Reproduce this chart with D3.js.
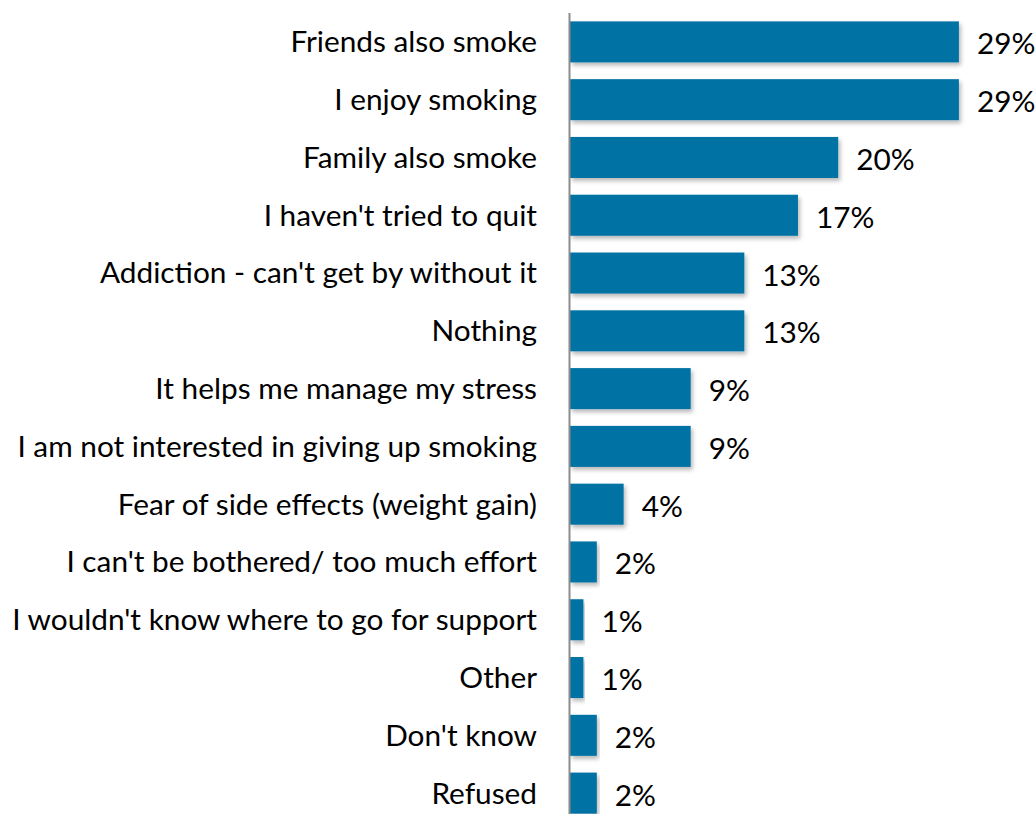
<!DOCTYPE html>
<html>
<head>
<meta charset="utf-8">
<script src="https://cdn.jsdelivr.net/npm/d3@7"></script>
<style>
  html, body { margin: 0; padding: 0; background: #fff; }
  svg { display: block; }
</style>
</head>
<body>
<svg id="chart" width="1035" height="814"></svg>
<script>
// Reasons given for not quitting smoking (share of respondents)
const categories = [
  "Friends also smoke",
  "I enjoy smoking",
  "Family also smoke",
  "I haven't tried to quit",
  "Addiction - can't get by without it",
  "Nothing",
  "It helps me manage my stress",
  "I am not interested in giving up smoking",
  "Fear of side effects (weight gain)",
  "I can't be bothered/ too much effort",
  "I wouldn't know where to go for support",
  "Other",
  "Don't know",
  "Refused"
];
const values = [29, 29, 20, 17, 13, 13, 9, 9, 4, 2, 1, 1, 2, 2];
const valueLabels = values.map(v => v + "%");

const W = 1035, H = 814;
const axisX = 569.5;
const svg = d3.select("#chart");

const defs = svg.append("defs");
const shadow = defs.append("filter").attr("id", "barShadow")
  .attr("x", "-5%").attr("y", "-20%").attr("width", "115%").attr("height", "160%");
shadow.append("feDropShadow")
  .attr("dx", 2).attr("dy", 3).attr("stdDeviation", 2)
  .attr("flood-color", "#000").attr("flood-opacity", 0.28);

const y = d3.scaleBand()
  .domain(categories)
  .range([13, 822])
  .paddingInner(0.29)
  .paddingOuter(0.145);

const x = d3.scaleLinear()
  .domain([0, 30])
  .range([570, 570 + 30 * 13.41]);

const font = "Lato, 'Open Sans', sans-serif";

// bars
svg.append("g").selectAll("rect")
  .data(categories)
  .join("rect")
  .attr("x", x(0))
  .attr("y", d => y(d))
  .attr("width", (d, i) => x(values[i]) - x(0))
  .attr("height", y.bandwidth())
  .attr("fill", "#0073a4")
  .attr("filter", "url(#barShadow)");

// vertical axis line
svg.append("line")
  .attr("x1", axisX).attr("x2", axisX)
  .attr("y1", 13).attr("y2", H)
  .attr("stroke", "#8c8c8c").attr("stroke-width", 2);

// category labels
const catG = svg.append("g");
const cats = catG.selectAll("text")
  .data(categories)
  .join("text")
  .attr("x", 537)
  .attr("y", d => y(d) + y.bandwidth() / 2)
  .attr("dy", "0.35em")
  .attr("text-anchor", "end")
  .attr("font-family", font)
  .attr("font-size", 26)
  .attr("fill", "#000")
  .text(d => d);

// fit the longest label into the space left of the axis
let maxW = 0;
cats.each(function () { maxW = Math.max(maxW, this.getComputedTextLength()); });
const fs = 26 * 525 / maxW;
cats.attr("font-size", fs);

// value labels
svg.append("g").selectAll("text")
  .data(categories)
  .join("text")
  .attr("x", (d, i) => x(values[i]) + 18)
  .attr("y", d => y(d) + y.bandwidth() / 2)
  .attr("dy", "0.42em")
  .attr("font-family", font)
  .attr("font-size", fs)
  .attr("fill", "#000")
  .text((d, i) => valueLabels[i]);
</script>
</body>
</html>
